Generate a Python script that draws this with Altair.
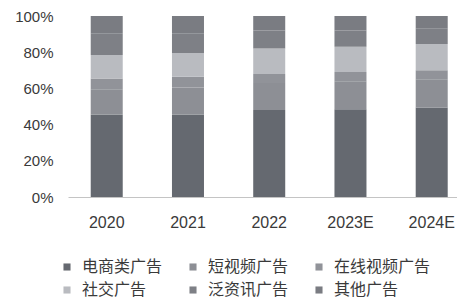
import altair as alt
import pandas as pd

years = ["2020", "2021", "2022", "2023E", "2024E"]
categories = ["电商类广告", "短视频广告", "在线视频广告", "社交广告", "泛资讯广告", "其他广告"]
dianshang = [45.5, 45.5, 48.0, 48.5, 49.5]
duanshipin = [14.0, 15.0, 15.0, 15.5, 15.5]
zaixianshipin = [6.0, 6.0, 5.0, 5.0, 5.0]
shejiao = [13.0, 13.0, 14.0, 14.0, 14.5]
fanzixun = [12.0, 11.0, 10.0, 9.0, 8.5]
qita = [9.5, 9.5, 8.0, 8.0, 7.0]
series = [dianshang, duanshipin, zaixianshipin, shejiao, fanzixun, qita]
colors = ["#656970", "#8d8f95", "#919399", "#b9bbc0", "#7e8086", "#7a7c82"]

rows = []
for ci, (cat, vals) in enumerate(zip(categories, series)):
    for y, v in zip(years, vals):
        rows.append({"year": y, "cat": cat, "value": v, "order": ci})
df = pd.DataFrame(rows)

font = "Liberation Sans, Noto Sans CJK SC, sans-serif"

chart = alt.Chart(df).mark_bar().encode(
    x=alt.X("year:N", sort=years,
            scale=alt.Scale(paddingInner=0.606, paddingOuter=0.197, align=0.71),
            axis=alt.Axis(title=None, labelAngle=0, ticks=False, grid=False,
                          domainColor="#c4c4c4", labelFontSize=16,
                          labelPadding=17, labelColor="#3a3a3a", labelFont=font)),
    y=alt.Y("value:Q", stack="zero",
            scale=alt.Scale(domain=[0, 100]),
            axis=alt.Axis(title=None, values=[0, 20, 40, 60, 80, 100],
                          labelExpr="datum.value + '%'", ticks=False, grid=False,
                          domain=False, labelFontSize=15, labelPadding=15,
                          labelColor="#3a3a3a", labelFont=font)),
    color=alt.Color("cat:N", sort=categories,
                    scale=alt.Scale(domain=categories, range=colors),
                    legend=alt.Legend(title=None, orient="none", legendX=-9, legendY=243,
                                      columns=3, direction="horizontal",
                                      symbolType="square", symbolSize=50,
                                      labelFontSize=16, labelFont=font,
                                      labelColor="#3a3a3a", labelOffset=7,
                                      columnPadding=22, rowPadding=7, padding=0,
                                      symbolStrokeWidth=0)),
    order=alt.Order("order:Q", sort="ascending"),
).properties(
    width=389, height=181,
    autosize=alt.AutoSizeParams(type="none"),
    padding={"left": 60, "top": 8, "right": 0, "bottom": 101},
).configure_view(stroke=None)

chart.save("out.html", embed_options={"renderer": "svg", "actions": False})
